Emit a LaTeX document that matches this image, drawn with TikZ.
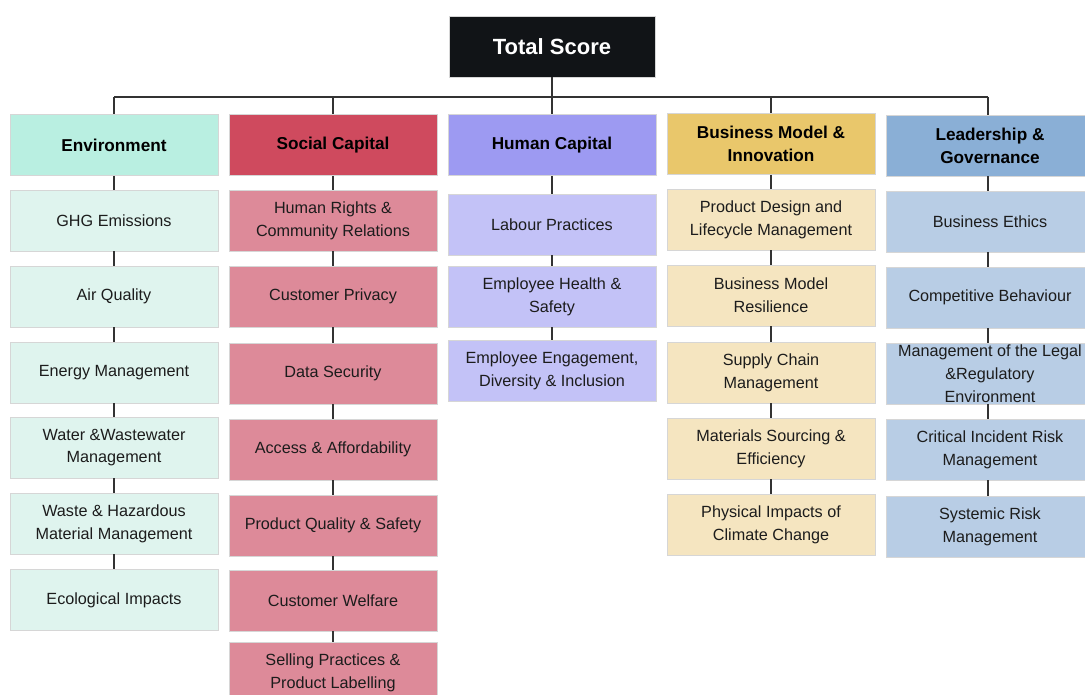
\documentclass[tikz,border=0pt]{standalone}
\usepackage{fontspec}
\setmainfont{Liberation Sans}
\definecolor{tsF}{HTML}{111417}
\definecolor{envH}{HTML}{B9EFE1}
\definecolor{envI}{HTML}{DFF4EE}
\definecolor{socH}{HTML}{CF4A5E}
\definecolor{socI}{HTML}{DD8A99}
\definecolor{humH}{HTML}{9D9AF2}
\definecolor{humI}{HTML}{C3C2F7}
\definecolor{busH}{HTML}{E9C76B}
\definecolor{busI}{HTML}{F5E5C0}
\definecolor{ledH}{HTML}{8AAFD6}
\definecolor{ledI}{HTML}{B8CDE5}
\definecolor{txt}{HTML}{1C1C1C}
\definecolor{bd}{HTML}{D6D6D6}
\definecolor{ln}{HTML}{333333}
\begin{document}
\begin{tikzpicture}[x=1pt,y=-1pt,
  box/.style={draw=bd,line width=0.8pt,minimum width=208pt,minimum height=61pt,inner sep=0pt,align=center,text=txt,font=\fontsize{16.2}{22.8}\selectfont},
  hbox/.style={box,font=\fontsize{17.2}{23}\selectfont\bfseries,text=black},
  conn/.style={draw=ln,line width=1.4pt}]
\useasboundingbox (0,0) rectangle (1085,695);
% total
\node[draw=bd,fill=tsF,minimum width=206pt,minimum height=61pt,text=white,font=\fontsize{22}{26}\selectfont\bfseries] (ts) at (552,46.5) {Total Score};
% headers
\node[hbox,fill=envH] (h1) at (114,145) {Environment};
\node[hbox,fill=socH] (h2) at (333,145) {Social Capital};
\node[hbox,fill=humH] (h3) at (552,145) {Human Capital};
\node[hbox,fill=busH] (h4) at (771,144) {Business Model \&\\Innovation};
\node[hbox,fill=ledH] (h5) at (990,145.5) {Leadership \&\\Governance};
% bus
\coordinate (bus) at (552,97);
\draw[conn] (ts.south) -- (h3.north);
\draw[conn] (h1.north |- bus) -- ([xshift=-2pt]h5.north |- bus);
\draw[conn] (h1.north |- bus) -- (h1.north);
\draw[conn] (h2.north |- bus) -- (h2.north);
\draw[conn] (h4.north |- bus) -- (h4.north);
\draw[conn] ([xshift=-2pt]h5.north |- bus) -- ([xshift=-2pt]h5.north);
% column 1
\node[box,fill=envI] (e1) at (114,220.5) {GHG Emissions};
\node[box,fill=envI] (e2) at (114,296.5) {Air Quality};
\node[box,fill=envI] (e3) at (114,372.5) {Energy Management};
\node[box,fill=envI] (e4) at (114,447.5) {Water \&Wastewater\\Management};
\node[box,fill=envI] (e5) at (114,523.5) {Waste \& Hazardous\\Material Management};
\node[box,fill=envI] (e6) at (114,600) {Ecological Impacts};
% column 2
\node[box,fill=socI] (s1) at (333,220.5) {Human Rights \&\\Community Relations};
\node[box,fill=socI] (s2) at (333,296.5) {Customer Privacy};
\node[box,fill=socI] (s3) at (333,373.5) {Data Security};
\node[box,fill=socI] (s4) at (333,449.5) {Access \& Affordability};
\node[box,fill=socI] (s5) at (333,525.5) {Product Quality \& Safety};
\node[box,fill=socI] (s6) at (333,600.5) {Customer Welfare};
\node[box,fill=socI] (s7) at (333,673) {Selling Practices \&\\Product Labelling};
% column 3
\node[box,fill=humI] (u1) at (552,224.5) {Labour Practices};
\node[box,fill=humI] (u2) at (552,296.5) {Employee Health \&\\Safety};
\node[box,fill=humI] (u3) at (552,370.5) {Employee Engagement,\\Diversity \& Inclusion};
% column 4
\node[box,fill=busI] (m1) at (771,219.5) {Product Design and\\Lifecycle Management};
\node[box,fill=busI] (m2) at (771,295.5) {Business Model\\Resilience};
\node[box,fill=busI] (m3) at (771,372.5) {Supply Chain\\Management};
\node[box,fill=busI] (m4) at (771,448.5) {Materials Sourcing \&\\Efficiency};
\node[box,fill=busI] (m5) at (771,524.5) {Physical Impacts of\\Climate Change};
% column 5
\node[box,fill=ledI] (l1) at (990,221.5) {Business Ethics};
\node[box,fill=ledI] (l2) at (990,297.5) {Competitive Behaviour};
\node[box,fill=ledI] (l3) at (990,373.5) {Management of the Legal\\\&Regulatory\\Environment};
\node[box,fill=ledI] (l4) at (990,449.5) {Critical Incident Risk\\Management};
\node[box,fill=ledI] (l5) at (990,526.5) {Systemic Risk\\Management};
% chains
\foreach \a/\b in {h1/e1,e1/e2,e2/e3,e3/e4,e4/e5,e5/e6,
  h2/s1,s1/s2,s2/s3,s3/s4,s4/s5,s5/s6,s6/s7,
  h3/u1,u1/u2,u2/u3,
  h4/m1,m1/m2,m2/m3,m3/m4,m4/m5}
  \draw[conn] (\a.south) -- (\b.north);
\foreach \a/\b in {h5/l1,l1/l2,l2/l3,l3/l4,l4/l5}
  \draw[conn] ([xshift=-2pt]\a.south) -- ([xshift=-2pt]\b.north);
\end{tikzpicture}
\end{document}
